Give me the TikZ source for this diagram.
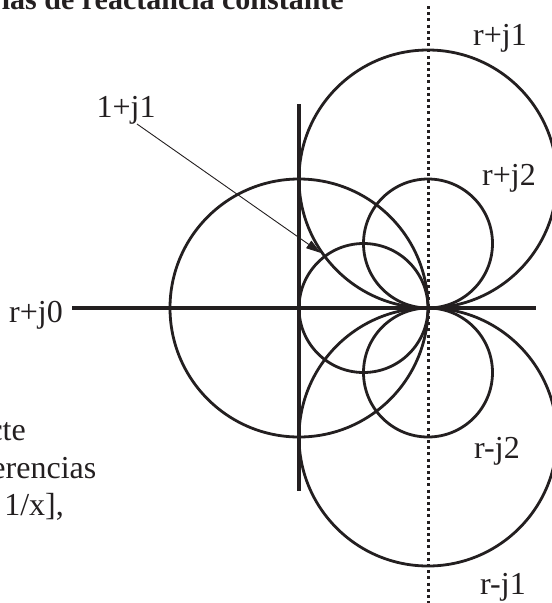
\documentclass[tikz,border=0pt]{standalone}
\usepackage{fontspec}
\setmainfont{Liberation Serif}
\usetikzlibrary{arrows.meta}
\definecolor{ink}{RGB}{35,31,32}
\begin{document}
\begin{tikzpicture}[x=1pt,y=-1pt,
  curve/.style={draw=ink, line width=2.8pt},
  axisline/.style={draw=ink, line width=3.6pt},
  dotline/.style={draw=ink, line width=3pt, dash pattern=on 3pt off 3.2pt},
  lbl/.style={font=\fontsize{32}{38}\selectfont, inner sep=0pt, text=ink},
  ttl/.style={font=\fontsize{30}{37}\selectfont\bfseries, inner sep=0pt, text=ink},
  pointer/.style={draw=ink, line width=0.9pt, -{Triangle[length=15pt,width=9pt]}}]
\useasboundingbox (0,0) rectangle (552,603);
\clip (0,0) rectangle (552,603);
% title (cut at top)
\node[ttl, anchor=base east] (title) at (344,9.5) {ias de reactancia constante};
% axes
\draw[dotline] (428,6) -- (428,603);
\draw[axisline] (299,104) -- (299,491);
\draw[axisline] (72,308) -- (536,308);
% circles
\draw[curve] (428,179) circle[radius=129pt];
\draw[curve] (428,437) circle[radius=129pt];
\draw[curve] (299,308) circle[radius=129pt];
\draw[curve] (363.5,308) circle[radius=64.5pt];
\draw[curve] (428,243.5) circle[radius=64.5pt];
\draw[curve] (428,372.5) circle[radius=64.5pt];
% labels
\node[lbl, anchor=base west] (rj1) at (473,45) {r+j1};
\node[lbl, anchor=base west] (rj2) at (482,185) {r+j2};
\node[lbl, anchor=base west] (rmj2) at (474,458) {r-j2};
\node[lbl, anchor=base west] (rmj1) at (480,594) {r-j1};
\node[lbl, anchor=base west] (rj0) at (9,322) {r+j0};
\node[lbl, anchor=base west] (oj1) at (96.5,117) {1+j1};
% pointer
\coordinate (pstart) at (137,124);
\coordinate (ptip) at (321,253);
\draw[pointer] (pstart) -- (ptip);
% left cut-off text
\node[lbl, anchor=base east] (t1) at (26,440) {cte};
\node[lbl, anchor=base east] (t2) at (96.5,478) {erencias};
\node[lbl, anchor=base east] (t3) at (64,515) {1/x],};
\end{tikzpicture}
\end{document}
